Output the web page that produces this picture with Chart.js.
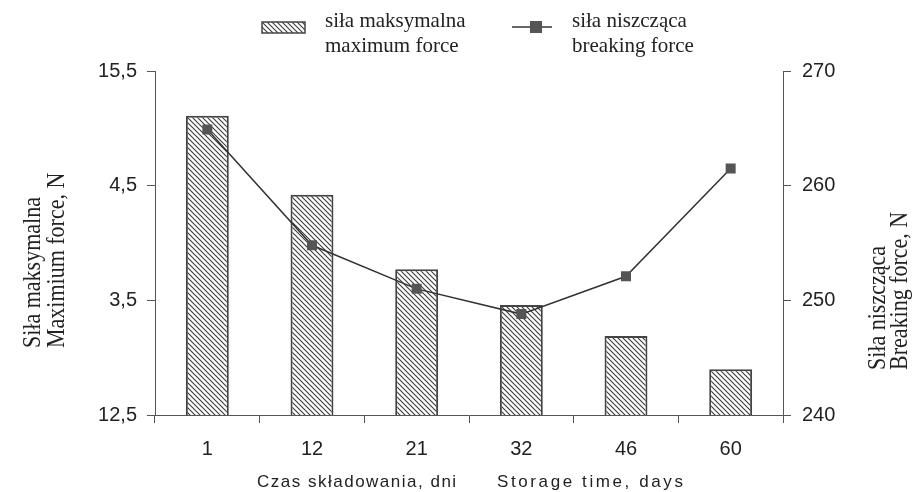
<!DOCTYPE html>
<html>
<head>
<meta charset="utf-8">
<script src="https://cdn.jsdelivr.net/npm/chart.js@4.4.0/dist/chart.umd.min.js"></script>
<style>
  html, body { margin: 0; padding: 0; background: #fff; }
  #wrap { position: relative; width: 914px; height: 492px; }
</style>
</head>
<body>
<div id="wrap"><canvas id="storage-chart" width="914" height="492"></canvas></div>
<script>
const days = ['1', '12', '21', '32', '46', '60'];
const maxForce = [15.11, 14.42, 13.77, 13.46, 13.19, 12.9];
const breakingForce = [264.9, 254.8, 251.0, 248.8, 252.1, 261.5];
const leftTickLabels = ['12,5', '3,5', '4,5', '15,5'];
const barLabel = ['siła maksymalna', 'maximum force'];
const lineLabel = ['siła niszcząca', 'breaking force'];
const leftTitle = ['Siła maksymalna', 'Maximium force, N'];
const rightTitle = ['Siła niszcząca', 'Breaking force, N'];
const xTitle = ['Czas składowania, dni', 'Storage time, days'];

const serif = '"Liberation Serif", "Times New Roman", serif';
const sans = '"Liberation Sans", Arial, sans-serif';

// diagonal hatch fill like the scanned bars
function hatch() {
  const c = document.createElement('canvas');
  c.width = 5; c.height = 5;
  const g = c.getContext('2d');
  g.fillStyle = '#fff';
  g.fillRect(0, 0, 5, 5);
  g.strokeStyle = '#3a3a3a';
  g.lineWidth = 1.1;
  g.beginPath();
  g.moveTo(-1, -1); g.lineTo(6, 6);
  g.moveTo(-6, -1); g.lineTo(1, 6);
  g.moveTo(4, -1); g.lineTo(11, 6);
  g.stroke();
  return g.createPattern(c, 'repeat');
}
const hatchFill = hatch();

// vertical two-line title, read bottom to top
function sideTitle(ctx, lines, x, y, gap) {
  ctx.save();
  ctx.translate(x, y);
  ctx.rotate(-Math.PI / 2);
  ctx.scale(1, 1.1);
  ctx.fillText(lines[0], 0, 0);
  ctx.fillText(lines[1], 0, gap / 1.1);
  ctx.restore();
}

// axis titles, x title and legend drawn on the canvas
const extras = {
  id: 'extras',
  afterDraw(chart) {
    const ctx = chart.ctx;
    const spacing = 'letterSpacing' in ctx;
    ctx.save();
    ctx.fillStyle = '#222';
    ctx.textAlign = 'left';
    ctx.textBaseline = 'alphabetic';

    ctx.font = '22px ' + serif;
    sideTitle(ctx, leftTitle, 40, 348, 24);
    sideTitle(ctx, rightTitle, 885, 370, 22);

    ctx.font = '17px ' + sans;
    if (spacing) ctx.letterSpacing = '1.5px';
    ctx.fillText(xTitle[0], 257, 487);
    if (spacing) ctx.letterSpacing = '2.6px';
    ctx.fillText(xTitle[1], 497, 487);
    if (spacing) ctx.letterSpacing = '0px';

    // legend
    ctx.fillStyle = hatchFill;
    ctx.fillRect(262, 22, 43, 11);
    ctx.strokeStyle = '#444';
    ctx.lineWidth = 1.5;
    ctx.strokeRect(262, 22, 43, 11);

    ctx.strokeStyle = '#333';
    ctx.beginPath();
    ctx.moveTo(512, 27); ctx.lineTo(552, 27);
    ctx.stroke();
    ctx.fillStyle = '#555';
    ctx.fillRect(530, 21, 12, 12);

    ctx.fillStyle = '#222';
    ctx.font = '21px ' + serif;
    ctx.fillText(barLabel[0], 325, 27);
    ctx.fillText(barLabel[1], 325, 52);
    ctx.fillText(lineLabel[0], 572, 27);
    ctx.fillText(lineLabel[1], 572, 52);
    ctx.restore();
  }
};

const canvasChart = document.querySelector('#storage-chart');

let config = {
  data: {
    labels: days,
    datasets: [
      {
        type: 'line',
        label: lineLabel.join(' '),
        data: breakingForce,
        yAxisID: 'y1',
        borderColor: '#333',
        borderWidth: 1.5,
        pointStyle: 'rect',
        pointRadius: 6,
        pointBackgroundColor: '#555',
        pointBorderColor: '#555',
        tension: 0,
        order: 0,
      },
      {
        type: 'bar',
        label: barLabel.join(' '),
        data: maxForce,
        yAxisID: 'y',
        backgroundColor: hatchFill,
        borderColor: '#444',
        borderWidth: 2,
        categoryPercentage: 0.82,
        barPercentage: 0.5,
        order: 1,
      },
    ],
  },
  options: {
    responsive: false,
    animation: false,
    layout: { padding: { top: 71, left: 0, right: 0, bottom: 0 } },
    plugins: { legend: { display: false }, tooltip: { enabled: false } },
    scales: {
      x: {
        offset: true,
        grid: { offset: true, drawOnChartArea: false, color: '#555', tickLength: 8 },
        border: { color: '#555' },
        ticks: { color: '#222', font: { family: sans, size: 20 }, padding: 14 },
        afterFit(s) { s.height = 77; },
      },
      y: {
        position: 'left',
        min: 12.5,
        max: 15.5,
        ticks: {
          stepSize: 1,
          color: '#222',
          font: { family: sans, size: 20 },
          padding: 10,
          callback: (v, i) => leftTickLabels[i],
        },
        grid: { drawOnChartArea: false, color: '#555', tickLength: 8 },
        border: { color: '#555' },
        afterFit(s) { s.width = 155; },
      },
      y1: {
        position: 'right',
        min: 240,
        max: 270,
        ticks: { stepSize: 10, color: '#222', font: { family: sans, size: 20 }, padding: 11 },
        grid: { drawOnChartArea: false, color: '#555', tickLength: 8 },
        border: { color: '#555' },
        afterFit(s) { s.width = 131; },
      },
    },
  },
  plugins: [extras],
};

let chart = new Chart(canvasChart, config);
</script>
</body>
</html>
